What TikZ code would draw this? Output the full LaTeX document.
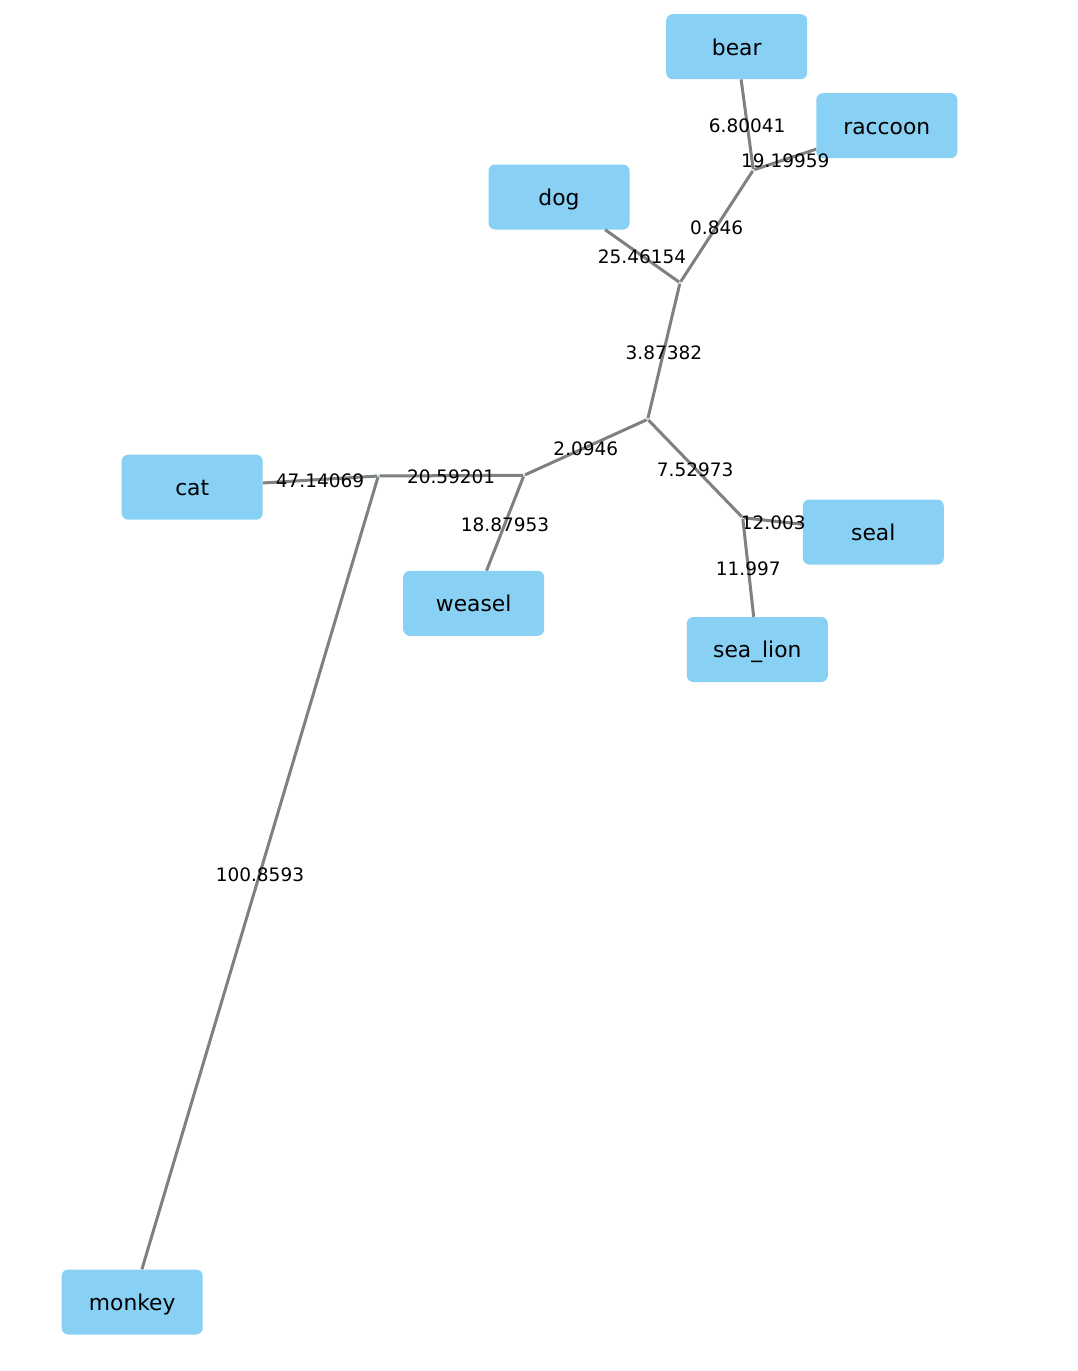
\documentclass[tikz,border=0pt]{standalone}
\usepackage{fontspec}
\setmainfont{DejaVu Sans}
\definecolor{boxblue}{RGB}{136,208,244}
\definecolor{edgegray}{RGB}{128,128,128}
\begin{document}
\begin{tikzpicture}[x=1pt,y=-1pt,
  taxon/.style={rectangle, rounded corners=6.5pt, fill=boxblue, minimum width=141pt, minimum height=65pt, inner sep=0pt, text height=16.6pt, text depth=0pt, font=\fontsize{21.8}{24}\selectfont},
  junc/.style={circle, fill=boxblue, inner sep=0pt, minimum size=2pt},
  branch/.style={draw=edgegray, line width=3pt},
  wt/.style={midway, inner sep=0pt, text height=16pt, text depth=0pt, font=\fontsize{18.5}{20}\selectfont, text=black}]
\useasboundingbox (0,0) rectangle (1078,1371);
% leaves
\node[taxon] (bear) at (736.7,46.7) {bear};
\node[taxon] (raccoon) at (886.8,125.7) {raccoon};
\node[taxon] (dog) at (559,197) {dog};
\node[taxon] (cat) at (192.2,487.2) {cat};
\node[taxon] (weasel) at (473.7,603.3) {weasel};
\node[taxon] (seal) at (873.3,532) {seal};
\node[taxon] (sealion) at (757.3,649.5) {sea\_lion};
\node[taxon] (monkey) at (132.2,1302) {monkey};
% internal nodes
\node[junc] (n1) at (753.3,170) {};
\node[junc] (n2) at (680,282.7) {};
\node[junc] (n3) at (647.7,419.3) {};
\node[junc] (n4) at (524,475.3) {};
\node[junc] (n5) at (378.3,476) {};
\node[junc] (n6) at (742.7,517.7) {};
% branches
\draw[branch] (bear) -- (n1) node[wt] {6.80041};
\draw[branch] (raccoon) -- (n1) node[wt] {19.19959};
\draw[branch] (n1) -- (n2) node[wt] {0.846};
\draw[branch] (dog) -- (n2) node[wt] {25.46154};
\draw[branch] (n2) -- (n3) node[wt] {3.87382};
\draw[branch] (n3) -- (n4) node[wt] {2.0946};
\draw[branch] (n3) -- (n6) node[wt] {7.52973};
\draw[branch] (n6) -- (seal) node[wt] {12.003};
\draw[branch] (n6) -- (sealion) node[wt] {11.997};
\draw[branch] (n4) -- (weasel) node[wt] {18.87953};
\draw[branch] (n4) -- (n5) node[wt] {20.59201};
\draw[branch] (n5) -- (cat) node[wt] {47.14069};
\draw[branch] (n5) -- (monkey) node[wt] {100.8593};
\end{tikzpicture}
\end{document}
